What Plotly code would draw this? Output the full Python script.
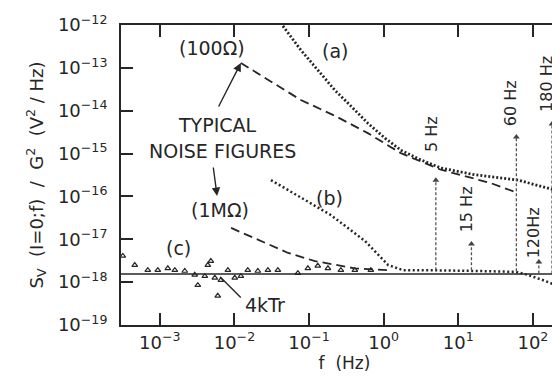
import numpy as np
import plotly.graph_objects as go

# ---------------- data ----------------
# curve (a): dotted
fa = [0.0446, 0.0776, 0.131, 0.222, 0.363, 0.614, 1.04, 1.70, 3.16, 5.85, 16.7, 63.0, 197, 294]
Sa = [9.5e-13, 2.6e-13, 8.9e-14, 3.0e-14, 1.29e-14, 5.1e-15, 2.3e-15, 1.2e-15, 7.1e-16, 4.6e-16,
      3.2e-16, 2.4e-16, 1.41e-16, 1.02e-16]

# typical noise figure, 100 ohm: dashed
f100 = [0.0122, 0.0281, 0.0776, 0.222, 0.614, 1.70, 5.85, 27.4, 63.0]
S100 = [1.30e-13, 5.2e-14, 1.78e-14, 7.6e-15, 3.0e-15, 1.02e-15, 4.2e-16, 2.04e-16, 1.20e-16]

# curve (b): dotted
fb = [0.0309, 0.0708, 0.195, 0.562, 1.15, 1.82, 3.89, 18.2, 58.9, 85.1, 135, 295]
Sb = [2.4e-16, 1.02e-16, 3.7e-17, 9.1e-18, 2.5e-18, 1.9e-18, 1.9e-18, 1.82e-18, 1.74e-18,
      1.48e-18, 1.12e-18, 6.6e-19]

# typical noise figure, 1 Mohm: dashed
f1M = [0.00902, 0.0209, 0.0525, 0.120, 0.407, 1.15]
S1M = [1.84e-17, 9.5e-18, 4.8e-18, 3.1e-18, 2.1e-18, 1.9e-18]

# curve (c): scattered measured points
fc = [3.19e-4, 4.62e-4, 6.90e-4, 9.40e-4, 1.28e-3, 1.59e-3, 2.16e-3, 2.94e-3, 3.23e-3, 4.01e-3,
      4.40e-3, 4.83e-3, 5.46e-3, 5.98e-3, 6.58e-3, 8.17e-3, 1.01e-2, 1.22e-2, 1.51e-2, 2.06e-2,
      2.81e-2, 3.82e-2, 7.08e-2, 9.64e-2, 0.131, 0.179, 0.267, 0.411, 0.673]
Sc = [4.1e-18, 2.5e-18, 1.9e-18, 1.9e-18, 2.1e-18, 1.9e-18, 1.82e-18, 1.48e-18, 8.5e-19, 1.38e-18,
      2.5e-18, 3.1e-18, 1.26e-18, 4.8e-19, 1.12e-18, 1.9e-18, 1.26e-18, 1.38e-18, 1.9e-18, 1.82e-18,
      1.9e-18, 1.9e-18, 1.62e-18, 2.1e-18, 2.4e-18, 2.1e-18, 1.9e-18, 1.9e-18, 1.9e-18]

# thermal noise level 4kTr
S_4kTr = 1.55e-18
x_range = [-3.52, 2.47]   # log10(f) limits
y_range = [-19, -12]      # log10(S) limits

# interference markers
line_f = [5, 15, 60, 120, 180]
line_labels = ["5 Hz", "15 Hz", "60 Hz", "120Hz", "180 Hz"]
line_base = [1.9e-18, 1.9e-18, 1.8e-18, 1.6e-18, 1.6e-18]
line_tip = [2.4e-16, 7.8e-18, 2.45e-15, 2.95e-18, 4.9e-15]
line_gap = [26, 10, 9, 2, 10]

tick_vals_x = [1e-3, 1e-2, 1e-1, 1e0, 1e1, 1e2]
tick_text_x = ["10<sup>−3</sup>", "10<sup>−2</sup>", "10<sup>−1</sup>", "10<sup>0</sup>",
               "10<sup>1</sup>", "10<sup>2</sup>"]
tick_vals_y = [1e-19, 1e-18, 1e-17, 1e-16, 1e-15, 1e-14, 1e-13, 1e-12]
tick_text_y = ["10<sup>−19</sup>", "10<sup>−18</sup>", "10<sup>−17</sup>", "10<sup>−16</sup>",
               "10<sup>−15</sup>", "10<sup>−14</sup>", "10<sup>−13</sup>", "10<sup>−12</sup>"]

# ---------------- figure ----------------
INK = "#262626"
FONT = "DejaVu Sans"
NB = "\u00a0"

fig = go.Figure()

fig.add_trace(go.Scatter(x=fa, y=Sa, mode="lines",
                         line=dict(color=INK, width=2.8, dash="2px,2px")))
fig.add_trace(go.Scatter(x=f100, y=S100, mode="lines",
                         line=dict(color=INK, width=1.8, dash="9px,5px")))
fig.add_trace(go.Scatter(x=fb, y=Sb, mode="lines",
                         line=dict(color=INK, width=2.5, dash="2px,2.5px")))
fig.add_trace(go.Scatter(x=f1M, y=S1M, mode="lines",
                         line=dict(color=INK, width=1.8, dash="9px,5px")))
fig.add_trace(go.Scatter(x=fc, y=Sc, mode="markers",
                         marker=dict(symbol="triangle-up-open", size=5, color=INK,
                                     line=dict(width=1.2, color=INK))))
# 4kTr line (on the mirrored right axis so its ticks show)
fig.add_trace(go.Scatter(x=[10 ** x_range[0], 10 ** x_range[1]], y=[S_4kTr, S_4kTr],
                         mode="lines", line=dict(color=INK, width=1.5), yaxis="y2"))

# vertical interference arrows
for f, b, t in zip(line_f, line_base, line_tip):
    fig.add_trace(go.Scatter(x=[f, f], y=[b, t], mode="lines",
                             line=dict(color="#555555", width=1.3, dash="3px,2px")))
fig.add_trace(go.Scatter(x=line_f, y=line_tip, mode="markers",
                         marker=dict(symbol="triangle-up", size=6, color="#444444")))

annotations = []
for f, t, lab, g in zip(line_f, line_tip, line_labels, line_gap):
    annotations.append(dict(x=np.log10(f), y=np.log10(t), xref="x", yref="y", text=lab,
                            textangle=-90, showarrow=False, yanchor="bottom", xanchor="center",
                            yshift=g, xshift=-5, font=dict(size=16, color=INK, family=FONT)))

def ptext(xp, yp, text, size=19):
    annotations.append(dict(x=xp, y=yp, xref="paper", yref="paper", text=text, showarrow=False,
                            xanchor="center", yanchor="middle",
                            font=dict(size=size, color=INK, family=FONT)))

ptext(0.203, 0.923, "(100Ω)")
ptext(0.216, 0.667, "TYPICAL")
ptext(0.226, 0.580, "NOISE" + NB + "FIGURES")
ptext(0.222, 0.383, "(1MΩ)")
ptext(0.478, 0.913, "(a)")
ptext(0.466, 0.423, "(b)")
ptext(0.128, 0.257, "(c)")
ptext(0.322, 0.067, "4kTr")

# arrow TYPICAL -> 100 ohm peak
annotations.append(dict(x=np.log10(f100[0]), y=np.log10(S100[0]), xref="x", yref="y", text="",
                        showarrow=True, ax=-23, ay=45, arrowhead=2, arrowsize=1.2,
                        arrowwidth=1.4, arrowcolor=INK))
# arrow NOISE FIGURES -> (1Mohm)
annotations.append(dict(x=0.215, y=0.43, xref="paper", yref="paper", text="",
                        showarrow=True, ax=-4, ay=-30, arrowhead=2, arrowsize=1.2,
                        arrowwidth=1.4, arrowcolor=INK))
# leader 4kTr
annotations.append(dict(x=0.222, y=0.16, xref="paper", yref="paper", text="",
                        showarrow=True, ax=22, ay=22, arrowhead=0,
                        arrowwidth=1.4, arrowcolor=INK))

axis_font = dict(size=18, color=INK, family=FONT)
ytitle = ("S<sub>V</sub>" + NB * 2 + "(I=0;f)" + NB * 2 + "/" + NB * 2 + "G<sup>2</sup>" + NB * 2
          + "(V<sup>2</sup>" + NB + "/" + NB + "Hz)")

fig.update_layout(
    width=560, height=376, autosize=False,
    margin=dict(l=113, r=0, t=17, b=59),
    paper_bgcolor="white", plot_bgcolor="white",
    showlegend=False,
    annotations=annotations,
    xaxis=dict(type="log", range=x_range, tickvals=tick_vals_x, ticktext=tick_text_x,
               automargin=False,
               ticks="inside", ticklen=12, tickwidth=1.5, tickcolor=INK,
               showline=True, linewidth=2, linecolor=INK, mirror="ticks", showgrid=False,
               zeroline=False, tickfont=axis_font,
               title=dict(text="f" + NB * 2 + "(Hz)", font=dict(size=17, color=INK, family=FONT),
                          standoff=4)),
    yaxis=dict(type="log", range=y_range, tickvals=tick_vals_y, ticktext=tick_text_y,
               automargin=False,
               ticks="inside", ticklen=12, tickwidth=1.5, tickcolor=INK,
               showline=True, linewidth=2, linecolor=INK, mirror=False, showgrid=False,
               zeroline=False, tickfont=axis_font, ticklabelstandoff=8,
               title=dict(text=ytitle, font=dict(size=18, color=INK, family=FONT), standoff=10)),
    yaxis2=dict(type="log", range=y_range, overlaying="y", side="right", tickvals=tick_vals_y,
                automargin=False,
                ticks="inside", ticklen=10, tickwidth=1.5, tickcolor=INK, showticklabels=False,
                showline=False, showgrid=False, zeroline=False),
)

fig.write_html("out.html", config={"displayModeBar": False})
